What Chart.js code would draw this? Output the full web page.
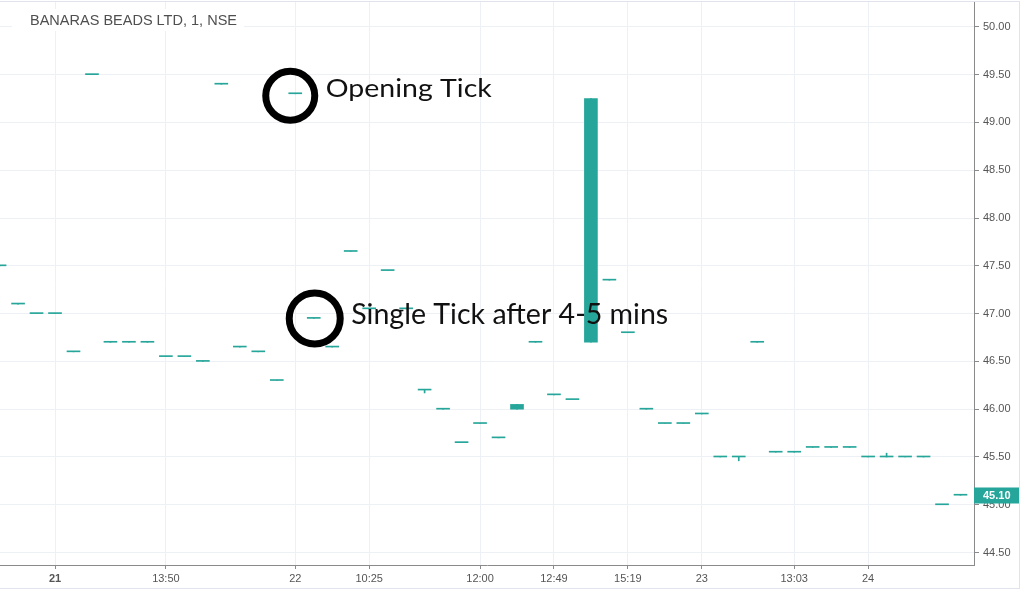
<!DOCTYPE html>
<html>
<head>
<meta charset="utf-8">
<script src="https://cdn.jsdelivr.net/npm/chart.js@4.4.1/dist/chart.umd.min.js"></script>
<style>
  html, body { margin: 0; padding: 0; background: #fff; overflow: hidden; }
  canvas { display: block; }
</style>
</head>
<body>
<canvas id="chart" width="1024" height="591"></canvas>
<script>
const title = 'BANARAS BEADS LTD, 1, NSE';

// one-minute candles
const opens  = [47.50, 47.10, 47.00, 47.00, 46.60, 49.50, 46.70, 46.70, 46.70, 46.55,
                46.55, 46.50, 49.40, 46.65, 46.60, 46.30, 49.30, 46.95, 46.65, 47.65,
                47.05, 47.45, 47.05, 46.20, 46.00, 45.65, 45.85, 45.70, 46.00, 46.70,
                46.15, 46.10, 46.70, 47.35, 46.80, 46.00, 45.85, 45.85, 45.95, 45.50,
                45.50, 46.70, 45.55, 45.55, 45.60, 45.60, 45.60, 45.50, 45.50, 45.50,
                45.50, 45.00, 45.10];
const closes = [47.50, 47.10, 47.00, 47.00, 46.60, 49.50, 46.70, 46.70, 46.70, 46.55,
                46.55, 46.50, 49.40, 46.65, 46.60, 46.30, 49.30, 46.95, 46.65, 47.65,
                47.05, 47.45, 47.05, 46.20, 46.00, 45.65, 45.85, 45.70, 46.05, 46.70,
                46.15, 46.10, 49.25, 47.35, 46.80, 46.00, 45.85, 45.85, 45.95, 45.50,
                45.50, 46.70, 45.55, 45.55, 45.60, 45.60, 45.60, 45.50, 45.50, 45.50,
                45.50, 45.00, 45.10];
const highs  = [47.50, 47.10, 47.00, 47.00, 46.60, 49.50, 46.70, 46.70, 46.70, 46.55,
                46.55, 46.50, 49.40, 46.65, 46.60, 46.30, 49.30, 46.95, 46.65, 47.65,
                47.05, 47.45, 47.05, 46.20, 46.00, 45.65, 45.85, 45.70, 46.05, 46.70,
                46.15, 46.10, 49.25, 47.35, 46.80, 46.00, 45.85, 45.85, 45.95, 45.50,
                45.50, 46.70, 45.55, 45.55, 45.60, 45.60, 45.60, 45.50, 45.54, 45.50,
                45.50, 45.00, 45.10];
const lows   = [47.50, 47.10, 47.00, 47.00, 46.60, 49.50, 46.70, 46.70, 46.70, 46.55,
                46.55, 46.50, 49.40, 46.65, 46.60, 46.30, 49.30, 46.95, 46.65, 47.65,
                47.05, 47.45, 47.05, 46.17, 46.00, 45.65, 45.85, 45.70, 46.00, 46.70,
                46.15, 46.10, 46.70, 47.35, 46.80, 46.00, 45.85, 45.85, 45.95, 45.50,
                45.46, 46.70, 45.55, 45.55, 45.60, 45.60, 45.60, 45.50, 45.50, 45.50,
                45.50, 45.00, 45.10];

// time axis labels and the candle they sit under
const tickIndex  = [3, 9, 16, 20, 26, 30, 34, 38, 43, 47];
const tickLabels = ['21', '13:50', '22', '10:25', '12:00', '12:49', '15:19', '23', '13:03', '24'];

// notes drawn on top of the chart
const notes = [
  { idx: 16, price: 49.30, text: 'Opening Tick', size: 25, width: 166, dx: -5, dy: 2, r: 24.5, ty: 1 },
  { idx: 17, price: 46.95, text: 'Single Tick after 4-5 mins', size: 28, width: 317, dx: 1, dy: 0, r: 25.5, ty: 6 }
];

const UP = '#26a69a';
const GRID = '#edf0f5';
const AXIS = '#8a8a8a';

const bodies = opens.map((o, i) => ({ x: i, y: [o, closes[i]] }));
const wicks  = opens.map((o, i) => ({ x: i, y: [lows[i], highs[i]] }));

function fitText(c, text, x, y, size, width) {
  c.font = size + 'px Lato, "Open Sans", sans-serif';
  const w = c.measureText(text).width;
  c.save();
  c.translate(x, y);
  c.scale(width / w, 1);
  c.fillText(text, 0, 0);
  c.restore();
}

const overlay = {
  id: 'overlay',
  beforeDraw(chart) {
    const c = chart.ctx;
    c.save();
    c.fillStyle = '#fff';
    c.fillRect(0, 0, chart.width, chart.height);
    c.strokeStyle = '#e0e3eb';
    c.lineWidth = 1;
    c.strokeRect(-2.5, 1.5, 1022, 587);
    c.restore();
  },
  afterDraw(chart) {
    const c = chart.ctx;
    const xs = chart.scales.x, ys = chart.scales.y;
    const area = chart.chartArea;
    c.save();

    // symbol title
    c.fillStyle = '#fff';
    c.fillRect(12, 9, 232, 22);
    c.fillStyle = '#4f4f4f';
    c.textBaseline = 'alphabetic';
    c.font = '14px "Liberation Sans", Arial, sans-serif';
    const tw = c.measureText(title).width;
    c.save();
    c.translate(30, 25);
    c.scale(207 / tw, 1);
    c.fillText(title, 0, 0);
    c.restore();

    // last price tag on the axis
    const last = closes.length - 1;
    const py = ys.getPixelForValue(closes[last]);
    c.fillStyle = UP;
    c.fillRect(area.right, Math.round(py) - 7.5, 45, 16);
    c.fillStyle = '#fff';
    c.font = 'bold 11px "Liberation Sans", Arial, sans-serif';
    c.textBaseline = 'middle';
    c.fillText(closes[last].toFixed(2), area.right + 9, Math.round(py) + 0.5);

    // circled notes
    c.textBaseline = 'alphabetic';
    notes.forEach(n => {
      const cx = xs.getPixelForValue(n.idx) + n.dx;
      const cy = ys.getPixelForValue(n.price) + n.dy;
      c.beginPath();
      c.arc(cx, cy, n.r, 0, Math.PI * 2);
      c.lineWidth = 7;
      c.strokeStyle = '#000';
      c.stroke();
      c.fillStyle = '#111';
      fitText(c, n.text, cx + n.r + 11, cy + n.ty, n.size, n.width);
    });
    c.restore();
  }
};

new Chart(document.getElementById('chart'), {
  type: 'bar',
  data: {
    datasets: [
      {
        data: wicks,
        backgroundColor: UP,
        barThickness: 1,
        grouped: false,
        order: 2
      },
      {
        data: bodies,
        backgroundColor: UP,
        barThickness: 13,
        minBarLength: 1,
        grouped: false,
        order: 1
      }
    ]
  },
  options: {
    responsive: false,
    animation: false,
    devicePixelRatio: 1,
    layout: { padding: { top: 2, right: 4, bottom: 4, left: 0 } },
    plugins: { legend: { display: false }, tooltip: { enabled: false } },
    scales: {
      x: {
        type: 'linear',
        offset: false,
        min: 0.023,
        max: 52.73,
        afterBuildTicks: s => { s.ticks = tickIndex.map(v => ({ value: v })); },
        afterFit: s => { s.height = 22; s.paddingLeft = 0; s.paddingRight = 0; },
        grid: { offset: false, color: GRID, tickColor: AXIS, tickLength: 4 },
        border: { color: AXIS, width: 1 },
        ticks: {
          autoSkip: false,
          maxRotation: 0,
          padding: 3,
          color: '#555',
          font: ctx => ({ family: '"Liberation Sans", Arial, sans-serif', size: 11, weight: ctx.index === 0 ? 'bold' : 'normal' }),
          callback: (v, i) => tickLabels[i]
        }
      },
      y: {
        position: 'right',
        min: 44.37,
        max: 50.26,
        afterFit: s => { s.width = 46; s.paddingTop = 0; s.paddingBottom = 0; },
        grid: { color: GRID, tickColor: AXIS, tickLength: 5 },
        border: { color: AXIS, width: 1 },
        ticks: {
          stepSize: 0.5,
          includeBounds: false,
          padding: 4,
          color: '#555',
          font: { family: '"Liberation Sans", Arial, sans-serif', size: 11 },
          callback: v => v.toFixed(2)
        }
      }
    }
  },
  plugins: [overlay]
});
</script>
</body>
</html>
